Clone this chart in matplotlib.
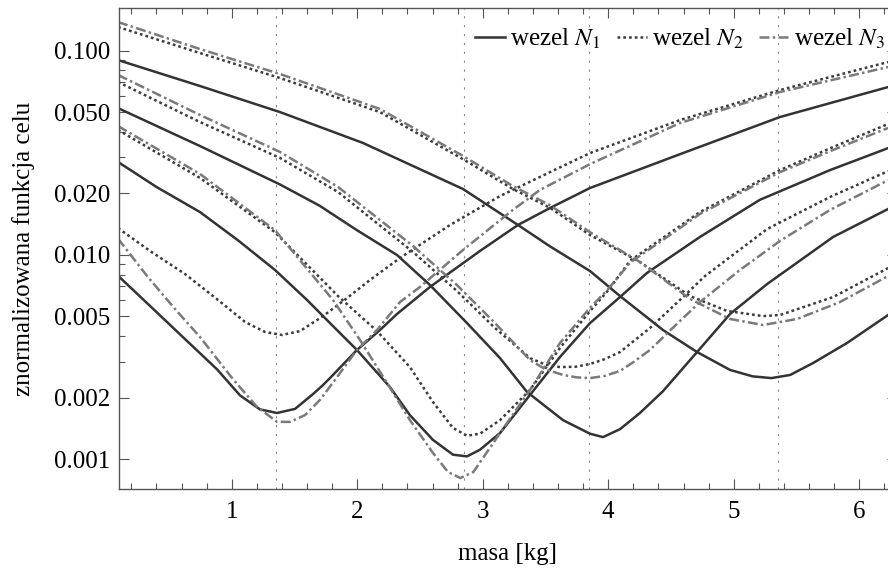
import matplotlib.pyplot as plt
from matplotlib.ticker import FixedLocator, FixedFormatter, MultipleLocator, NullFormatter

# ---- objective function vs. mass, one V-shaped curve per node and true mass ----
# group A (true mass ~1.35 kg)
m_a_n1 = [0.094, 0.349, 0.612, 0.883, 1.066, 1.225, 1.361, 1.505, 1.648, 1.720, 1.783, 1.998,
          2.181, 2.317, 2.580, 2.978, 3.281, 3.536, 3.855, 4.572, 5.369, 6.230]
f_a_n1 = [0.0079, 0.00562, 0.00395, 0.00275, 0.00205, 0.00175, 0.00168, 0.00176, 0.00208, 0.00228,
          0.00249, 0.00342, 0.00428, 0.00513, 0.00696, 0.01044, 0.0140, 0.01695, 0.02124, 0.0311,
          0.0473, 0.0663]
m_a_n2 = [0.094, 0.349, 0.628, 0.891, 1.106, 1.265, 1.401, 1.544, 1.728, 1.919, 2.102, 2.341,
          2.740, 3.138, 3.536, 3.855, 4.572, 5.369, 6.230]
f_a_n2 = [0.01352, 0.01044, 0.00805, 0.00601, 0.00469, 0.00419, 0.00405, 0.00423, 0.00501, 0.00614,
          0.00753, 0.00965, 0.0140, 0.0194, 0.0254, 0.0315, 0.0457, 0.0641, 0.0879]
m_a_n3 = [0.094, 0.326, 0.548, 0.747, 1.010, 1.202, 1.361, 1.465, 1.584, 1.704, 1.823, 1.998,
          2.158, 2.341, 2.500, 2.843, 3.241, 3.457, 3.855, 4.572, 5.369, 6.230]
f_a_n3 = [0.0120, 0.00787, 0.00543, 0.00396, 0.00246, 0.0018, 0.00152, 0.00152, 0.00164, 0.00195,
          0.00244, 0.00342, 0.00428, 0.00587, 0.00696, 0.01056, 0.0166, 0.0208, 0.0278, 0.0442,
          0.0627, 0.0831]

# group B (true mass ~2.85 kg)
m_b_n1 = [0.094, 0.400, 0.747, 1.050, 1.345, 1.600, 1.847, 1.998, 2.261, 2.420, 2.604, 2.763,
          2.875, 2.978, 3.138, 3.377, 3.616, 3.855, 4.094, 4.309, 4.731, 5.209, 5.768, 6.230]
f_b_n1 = [0.0285, 0.0215, 0.0162, 0.01178, 0.00843, 0.00601, 0.00423, 0.00342, 0.00225, 0.00164,
          0.00124, 0.00105, 0.00103, 0.00111, 0.00134, 0.00206, 0.00316, 0.00463, 0.00621, 0.00815,
          0.01223, 0.0186, 0.0260, 0.0333]
m_b_n2 = [0.094, 0.747, 1.345, 1.847, 2.158, 2.420, 2.604, 2.763, 2.875, 2.978, 3.138, 3.377,
          3.616, 3.855, 4.000, 4.174, 4.516, 4.731, 5.369, 5.791, 6.230]
f_b_n2 = [0.0409, 0.0238, 0.0129, 0.00628, 0.00423, 0.00282, 0.00190, 0.00142, 0.0013, 0.00133,
          0.00155, 0.00218, 0.0035, 0.0053, 0.0067, 0.00935, 0.0131, 0.0162, 0.0260, 0.0337, 0.0437]
m_b_n3 = [0.094, 0.747, 1.345, 1.807, 2.022, 2.237, 2.420, 2.604, 2.723, 2.822, 2.926, 3.138,
          3.377, 3.616, 3.855, 4.000, 4.174, 4.516, 4.731, 5.369, 5.791, 6.230]
f_b_n3 = [0.0427, 0.0249, 0.0132, 0.00601, 0.00383, 0.00236, 0.00155, 0.00107, 0.000864, 0.000807,
          0.000864, 0.00134, 0.00218, 0.0037, 0.0055, 0.0068, 0.00915, 0.0128, 0.01585, 0.0254,
          0.0326, 0.0418]

# group C (true mass ~3.85 kg)
m_c_n1 = [0.094, 0.747, 1.385, 1.700, 1.998, 2.317, 2.580, 2.875, 3.138, 3.353, 3.640, 3.855,
          3.959, 4.094, 4.253, 4.437, 4.708, 4.971, 5.266, 5.792, 6.230]
f_c_n1 = [0.0523, 0.0341, 0.0221, 0.0174, 0.0132, 0.00998, 0.00711, 0.00463, 0.00312, 0.00213,
          0.00155, 0.00133, 0.00128, 0.0014, 0.00168, 0.00215, 0.00334, 0.00513, 0.00719, 0.01223,
          0.01676]
m_c_n2 = [0.094, 0.747, 1.385, 1.847, 2.445, 2.795, 3.098, 3.377, 3.500, 3.616, 3.740, 3.855,
          3.970, 4.094, 4.333, 4.572, 4.771, 5.266, 5.768, 6.230]
f_c_n2 = [0.0702, 0.0447, 0.0298, 0.0203, 0.01032, 0.00665, 0.00438, 0.00312, 0.00290, 0.00282,
          0.00283, 0.00292, 0.00308, 0.00334, 0.00438, 0.00601, 0.00787, 0.01337, 0.0192, 0.0257]
m_c_n3 = [0.094, 0.747, 1.385, 1.847, 2.445, 2.795, 3.098, 3.377, 3.500, 3.640, 3.750, 3.855,
          3.970, 4.094, 4.200, 4.333, 4.500, 4.731, 5.050, 5.369, 5.768, 6.230]
f_c_n3 = [0.0760, 0.0484, 0.0319, 0.0215, 0.01104, 0.00711, 0.00463, 0.00305, 0.00275, 0.00258,
          0.00251, 0.00249, 0.00255, 0.0027, 0.00298, 0.00342, 0.00430, 0.00587, 0.00843, 0.0117,
          0.0166, 0.0232]

# group D (true mass ~5.35 kg)
m_d_n1 = [0.094, 0.747, 1.385, 2.046, 2.843, 3.281, 3.536, 3.855, 4.094, 4.437, 4.708, 4.971,
          5.15, 5.30, 5.45, 5.632, 5.903, 6.230]
f_d_n1 = [0.0899, 0.0671, 0.0500, 0.0353, 0.0210, 0.0140, 0.0110, 0.00833, 0.00628, 0.00428,
          0.00334, 0.00273, 0.00254, 0.00249, 0.00258, 0.00295, 0.0037, 0.00507]
m_d_n2 = [0.094, 0.747, 1.385, 2.181, 2.843, 3.241, 3.536, 3.855, 4.253, 4.652, 4.947, 5.234,
          5.369, 5.792, 6.230]
f_d_n2 = [0.1305, 0.0973, 0.0734, 0.0500, 0.0294, 0.0210, 0.0170, 0.0125, 0.00922, 0.00628,
          0.00531, 0.00501, 0.00507, 0.00621, 0.00861]
m_d_n3 = [0.094, 0.747, 1.385, 2.181, 2.843, 3.241, 3.536, 3.855, 4.253, 4.652, 4.971, 5.234,
          5.505, 5.847, 6.230]
f_d_n3 = [0.138, 0.1018, 0.0768, 0.0518, 0.0305, 0.0217, 0.0175, 0.0129, 0.00922, 0.00608,
          0.00485, 0.00453, 0.00485, 0.00587, 0.00787]

true_masses = [1.35, 2.85, 3.85, 5.35]
legend_labels = ["wezel $N_1$", "wezel $N_2$", "wezel $N_3$"]
y_ticks = [0.001, 0.002, 0.005, 0.01, 0.02, 0.05, 0.1]
y_tick_labels = ["0.001", "0.002", "0.005", "0.010", "0.020", "0.050", "0.100"]

plt.rcParams["font.family"] = ["Liberation Serif", "DejaVu Serif"]
plt.rcParams["mathtext.fontset"] = "stix"
plt.rcParams["font.size"] = 18

# line styles per node
style_n1 = dict(color="#333333", lw=1.8, linestyle="-")
style_n2 = dict(color="#3c3c3c", lw=1.8, linestyle=(0, (1.1, 1.2)))
style_n3 = dict(color="#7a7a7a", lw=1.8, linestyle=(0, (4, 1.3, 1, 1.3)))

fig = plt.figure(figsize=(8.88, 5.72), dpi=100)
ax = fig.add_axes([118.75 / 888, 83 / 572, 778.1 / 888, 481 / 572])

for m in true_masses:
    ax.axvline(m, color="#8a8a8a", lw=0.8, linestyle=(0, (2, 6)), zorder=1)

h1, = ax.plot(m_a_n1, f_a_n1, **style_n1)
ax.plot(m_b_n1, f_b_n1, **style_n1)
ax.plot(m_c_n1, f_c_n1, **style_n1)
ax.plot(m_d_n1, f_d_n1, **style_n1)
h2, = ax.plot(m_a_n2, f_a_n2, **style_n2)
ax.plot(m_b_n2, f_b_n2, **style_n2)
ax.plot(m_c_n2, f_c_n2, **style_n2)
ax.plot(m_d_n2, f_d_n2, **style_n2)
h3, = ax.plot(m_a_n3, f_a_n3, **style_n3)
ax.plot(m_b_n3, f_b_n3, **style_n3)
ax.plot(m_c_n3, f_c_n3, **style_n3)
ax.plot(m_d_n3, f_d_n3, **style_n3)

ax.set_yscale("log")
ax.set_xlim(0.1, 6.3)
ax.set_ylim(0.000713, 0.1617)

ax.xaxis.set_major_locator(MultipleLocator(1))
ax.xaxis.set_minor_locator(MultipleLocator(0.2))
ax.yaxis.set_major_locator(FixedLocator(y_ticks))
ax.yaxis.set_major_formatter(FixedFormatter(y_tick_labels))
minor_y = [k * d for d in (0.001, 0.01, 0.1) for k in (3, 4, 6, 7, 8, 9)]
ax.yaxis.set_minor_locator(FixedLocator(minor_y))
ax.yaxis.set_minor_formatter(NullFormatter())

ax.tick_params(which="both", direction="in", top=True, right=True,
               color="#555555", width=0.8)
ax.tick_params(which="major", length=7)
ax.tick_params(which="minor", length=4)
ax.tick_params(axis="x", pad=9)
ax.tick_params(axis="y", pad=6)
for s in ax.spines.values():
    s.set_color("#555555")
    s.set_linewidth(1.0)

ax.set_xlabel("masa [kg]", labelpad=14)
ax.set_ylabel("znormalizowana funkcja celu", labelpad=14)

ax.legend([h1, h2, h3], legend_labels, loc="upper right",
          bbox_to_anchor=(0.985, 0.962), ncol=3, frameon=False, fontsize=18,
          handlelength=1.2, handletextpad=0.2, columnspacing=0.65,
          borderaxespad=0, borderpad=0)

fig.savefig("out.png", dpi=100)
